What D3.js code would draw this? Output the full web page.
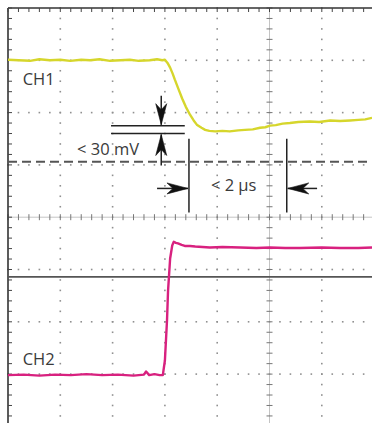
<!DOCTYPE html>
<html>
<head>
<meta charset="utf-8">
<script src="https://cdn.jsdelivr.net/npm/d3@7"></script>
<style>
	html, body { margin: 0; padding: 0; background: #fff; }
	svg { display: block; }
	.lbl { font-family: 'Open Sans', sans-serif; fill: #3a3a3a; }
</style>
</head>
<body>
<svg class="scope" width="372" height="423"></svg>
<script>
// scope screen: 10 x 8 divisions, time in us (1 us/div), volts in divisions
let divX = [-5, -4, -3, -2, -1, 0, 1, 2, 3, 4, 5];
let divY = [-4, -3, -2, -1, 0, 1, 2, 3, 4];

// CH1 trace (yellow)
let ch1Time = [-5.0, -4.8, -4.58, -4.4, -4.2, -4.0, -3.81, -3.6, -3.43, -3.25, -3.05, -2.85, -2.67, -2.5, -2.29, -2.15, -2.05, -2.0,
	-1.95, -1.9, -1.85, -1.81, -1.74, -1.67, -1.6, -1.52, -1.45, -1.39, -1.3, -1.23, -1.15, -1.04, -0.9, -0.76, -0.6, -0.47, -0.32,
	-0.18, -0.08, 0.01, 0.12, 0.25, 0.39, 0.55, 0.77, 0.95, 1.16, 1.35, 1.54, 1.7, 1.83, 1.96];
let ch1Value = [3.01, 3.0, 2.99, 3.02, 3.0, 3.01, 2.99, 3.01, 3.0, 3.02, 2.99, 3.0, 3.01, 2.99, 3.0, 3.02, 3.0, 3.01,
	2.95, 2.86, 2.74, 2.63, 2.45, 2.27, 2.11, 1.96, 1.85, 1.77, 1.71, 1.67, 1.65, 1.64, 1.65, 1.64, 1.66, 1.67, 1.68,
	1.71, 1.72, 1.75, 1.76, 1.79, 1.8, 1.82, 1.83, 1.82, 1.85, 1.84, 1.85, 1.86, 1.87, 1.9];

// CH2 trace (magenta)
let ch2Time = [-5.0, -4.7, -4.4, -4.1, -3.8, -3.5, -3.2, -2.9, -2.6, -2.4, -2.36, -2.3, -2.2, -2.1, -2.04, -2.0, -1.96, -1.94, -1.9,
	-1.86, -1.83, -1.79, -1.75, -1.68, -1.62, -1.52, -1.42, -1.28, -1.14, -0.9, -0.56, -0.25, 0.01, 0.3, 0.58, 1.0, 1.35, 1.7, 1.96];
let ch2Value = [-3.02, -3.01, -3.03, -3.01, -3.02, -3.0, -3.02, -3.01, -3.03, -3.01, -2.95, -3.02, -3.0, -3.02, -3.02, -2.74, -1.98, -1.41, -0.79,
	-0.54, -0.47, -0.49, -0.5, -0.53, -0.55, -0.55, -0.56, -0.57, -0.58, -0.57, -0.58, -0.59, -0.58, -0.59, -0.59, -0.58, -0.59, -0.59, -0.58];

// reference lines
let dashedLevel = 1.06;
let solidLevel = -1.14;

// annotations
let mvLevels = [1.75, 1.6];
let mvSpan = [-3.03, -1.62];
let mvArrowX = -2.07;
let mvArrowFrom = [2.32, 0.99];
let usMarkers = [-1.54, 0.33];
let usSpan = [1.5, 0.09];
let usArrowLevel = 0.55;
let usArrowFrom = [-2.15, 0.91];
let labels = [
	{ text: 'CH1', t: -4.72, v: 2.52 },
	{ text: 'CH2', t: -4.72, v: -2.83 },
	{ text: '< 30 mV', t: -3.68, v: 1.18 },
	{ text: '< 2 \u00b5s', t: -1.12, v: 0.5 }
];

let svg = d3.select('.scope');
let x = d3.scaleLinear().domain([-5, 5]).range([8, 8 + 10 * 52.3]);
let y = d3.scaleLinear().domain([4, -4]).range([8, 8 + 8 * 52.3]);
let minor = d3.range(-25, 26).map(function(d) { return d / 5; });
let minorY = d3.range(-20, 21).map(function(d) { return d / 5; });

/* GRID */
let grid = svg.append('g');
// dotted division lines
divX.slice(1, -1).filter(function(d) { return d !== 0; }).forEach(function(dx) {
	grid.selectAll(null).data(minorY).enter().append('rect')
		.attr('x', x(dx) - 0.8).attr('y', function(d) { return y(d) - 0.8; })
		.attr('width', 1.6).attr('height', 1.6).attr('fill', '#909090');
});
divY.slice(0, -1).filter(function(d) { return d !== 0; }).forEach(function(dy) {
	grid.selectAll(null).data(minor).enter().append('rect')
		.attr('x', function(d) { return x(d) - 0.8; }).attr('y', y(dy) - 0.8)
		.attr('width', 1.6).attr('height', 1.6).attr('fill', '#909090');
});

// center axes with tick crosses
grid.append('line').attr('x1', x(0)).attr('x2', x(0)).attr('y1', y(4)).attr('y2', y(-4))
	.attr('stroke', '#aaa').attr('stroke-width', 0.7);
grid.append('line').attr('x1', x(-5)).attr('x2', x(5)).attr('y1', y(0)).attr('y2', y(0))
	.attr('stroke', '#aaa').attr('stroke-width', 0.7);
grid.selectAll('.vtick').data(minorY).enter().append('line')
	.attr('x1', x(0) - 3).attr('x2', x(0) + 3)
	.attr('y1', function(d) { return y(d); }).attr('y2', function(d) { return y(d); })
	.attr('stroke', '#777').attr('stroke-width', 1);
grid.selectAll('.htick').data(minor).enter().append('line')
	.attr('y1', y(0) - 3).attr('y2', y(0) + 3)
	.attr('x1', function(d) { return x(d); }).attr('x2', function(d) { return x(d); })
	.attr('stroke', '#777').attr('stroke-width', 1);

// frame: top and left borders with inner ticks
grid.append('line').attr('x1', x(-5)).attr('x2', x(5)).attr('y1', y(4)).attr('y2', y(4))
	.attr('stroke', '#333').attr('stroke-width', 1.6);
grid.append('line').attr('x1', x(-5)).attr('x2', x(-5)).attr('y1', y(4)).attr('y2', y(-4))
	.attr('stroke', '#333').attr('stroke-width', 1.6);
grid.selectAll('.ttick').data(minor).enter().append('line')
	.attr('x1', function(d) { return x(d); }).attr('x2', function(d) { return x(d); })
	.attr('y1', y(4)).attr('y2', y(4) + 4)
	.attr('stroke', '#444').attr('stroke-width', 1);
grid.selectAll('.ltick').data(minorY).enter().append('line')
	.attr('y1', function(d) { return y(d); }).attr('y2', function(d) { return y(d); })
	.attr('x1', x(-5)).attr('x2', x(-5) + 4)
	.attr('stroke', '#444').attr('stroke-width', 1);

// reference lines
svg.append('line').attr('x1', x(-5)).attr('x2', x(5)).attr('y1', y(dashedLevel)).attr('y2', y(dashedLevel))
	.attr('stroke', '#555').attr('stroke-width', 1.8).attr('stroke-dasharray', '9,5');
svg.append('line').attr('x1', x(-5)).attr('x2', x(5)).attr('y1', y(solidLevel)).attr('y2', y(solidLevel))
	.attr('stroke', '#555').attr('stroke-width', 1.8);

/* TRACES */
let line = d3.line().x(function(d) { return x(d[0]); }).y(function(d) { return y(d[1]); });
svg.append('path').datum(d3.zip(ch1Time, ch1Value)).attr('d', line)
	.attr('fill', 'none').attr('stroke', '#d6d62c').attr('stroke-width', 2.4).attr('stroke-linejoin', 'round');
svg.append('path').datum(d3.zip(ch2Time, ch2Value)).attr('d', line)
	.attr('fill', 'none').attr('stroke', '#d8217f').attr('stroke-width', 2.4).attr('stroke-linejoin', 'round');

/* ANNOTATIONS */
let ann = svg.append('g').attr('stroke', '#222').attr('stroke-width', 1.5);

// draw shaft plus a filled spear head whose tip sits at (x2, y2)
function arrow(x1, y1, x2, y2) {
	let angle = Math.atan2(y2 - y1, x2 - x1) * 180 / Math.PI;
	ann.append('line').attr('x1', x1).attr('y1', y1).attr('x2', x2).attr('y2', y2);
	ann.append('path')
		.attr('d', 'M0,0 L-21,-5.5 L-15,0 L-21,5.5 Z')
		.attr('transform', 'translate(' + x2 + ',' + y2 + ') rotate(' + angle + ')')
		.attr('fill', '#111').attr('stroke', '#111').attr('stroke-width', 0.6)
		.attr('stroke-linejoin', 'round');
}

mvLevels.forEach(function(v) {
	ann.append('line').attr('x1', x(mvSpan[0])).attr('x2', x(mvSpan[1])).attr('y1', y(v)).attr('y2', y(v));
});
mvArrowFrom.forEach(function(v, i) {
	arrow(x(mvArrowX), y(v), x(mvArrowX), y(mvLevels[i]) + (i === 0 ? -1 : 1));
});
usMarkers.forEach(function(t, i) {
	ann.append('line').attr('x1', x(t)).attr('x2', x(t)).attr('y1', y(usSpan[0])).attr('y2', y(usSpan[1]));
	arrow(x(usArrowFrom[i]), y(usArrowLevel), x(t) + (i === 0 ? -1 : 1), y(usArrowLevel));
});

svg.selectAll('.lbl').data(labels).enter().append('text')
	.attr('class', 'lbl')
	.attr('x', function(d) { return x(d.t); })
	.attr('y', function(d) { return y(d.v); })
	.style('font-size', '16.5px')
	.text(function(d) { return d.text; });
</script>
</body>
</html>
